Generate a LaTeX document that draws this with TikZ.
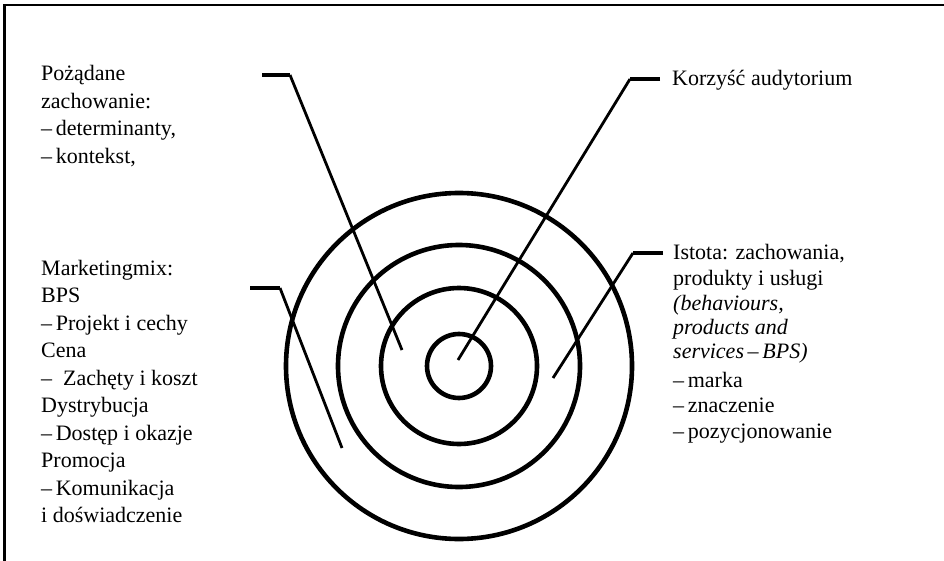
\documentclass[tikz,border=0pt]{standalone}
\usepackage{fontspec}
\setmainfont{Liberation Serif}
\begin{document}
\begin{tikzpicture}[x=1pt,y=-1pt,
  txt/.style={anchor=base west,inner sep=0pt,font=\fontsize{22}{26}\selectfont},
  ring/.style={line width=4.6pt},
  leader/.style={line width=2.8pt},
  bar/.style={line width=3.8pt}]
\useasboundingbox (0,0) rectangle (944,561);
% frame
\draw[line width=2.5pt] (4.5,561) -- (4.5,5) -- (944,5);
% rings
\coordinate (c) at (459,366);
\foreach \r/\n in {32/r1,78/r2,121/r3,173/r4}
  \draw[ring] (c) circle[radius=\r] coordinate (\n);
% leaders: Pozadane
\coordinate (p1) at (262,75); \coordinate (p2) at (290,75); \coordinate (p3) at (402,350);
\draw[bar] (p1) -- (p2);
\draw[leader] (p2) -- (p3);
% Korzysc
\coordinate (k1) at (660,79); \coordinate (k2) at (630,79); \coordinate (k3) at (458,360);
\draw[bar] (k1) -- (k2);
\draw[leader] (k2) -- (k3);
% Marketing mix
\coordinate (m1) at (250,288); \coordinate (m2) at (280,288); \coordinate (m3) at (342,448);
\draw[bar] (m1) -- (m2);
\draw[leader] (m2) -- (m3);
% Istota
\coordinate (i1) at (663,253); \coordinate (i2) at (633,253); \coordinate (i3) at (553,378);
\draw[bar] (i1) -- (i2);
\draw[leader] (i2) -- (i3);
% texts top-left
\node[txt] (t1) at (41,81) {Pożądane};
\node[txt] (t2) at (41,108.5) {zachowanie:};
\node[txt] (t3) at (41,136) {–\,determinanty,};
\node[txt] (t4) at (41,163.5) {–\,kontekst,};
% Korzysc
\node[txt] (k) at (672,86) {Korzyść audytorium};
% marketing mix
\node[txt] (m01) at (41,275) {Marketingmix:};
\node[txt] (m02) at (41,302.5) {BPS};
\node[txt] (m03) at (41,330) {–\,Projekt i cechy};
\node[txt] (m04) at (41,357.5) {Cena};
\node[txt] (m05) at (41,385) {–\enspace Zachęty i koszt};
\node[txt] (m06) at (41,412.5) {Dystrybucja};
\node[txt] (m07) at (41,440) {–\,Dostęp i okazje};
\node[txt] (m08) at (41,467.5) {Promocja};
\node[txt] (m09) at (41,495) {–\,Komunikacja};
\node[txt] (m10) at (41,522.5) {i doświadczenie};
% Istota
\node[txt] (s1) at (673,259) {Istota: zachowania,};
\node[txt] (s2) at (673,285) {produkty i usługi};
\node[txt] (s3) at (673,310) {\itshape (behaviours,};
\node[txt] (s4) at (673,334) {\itshape products and};
\node[txt] (s5) at (673,358) {\itshape services\,–\,BPS)};
\node[txt] (s6) at (673,387) {–\,marka};
\node[txt] (s7) at (673,412.5) {–\,znaczenie};
\node[txt] (s8) at (673,438) {–\,pozycjonowanie};
\end{tikzpicture}
\end{document}
